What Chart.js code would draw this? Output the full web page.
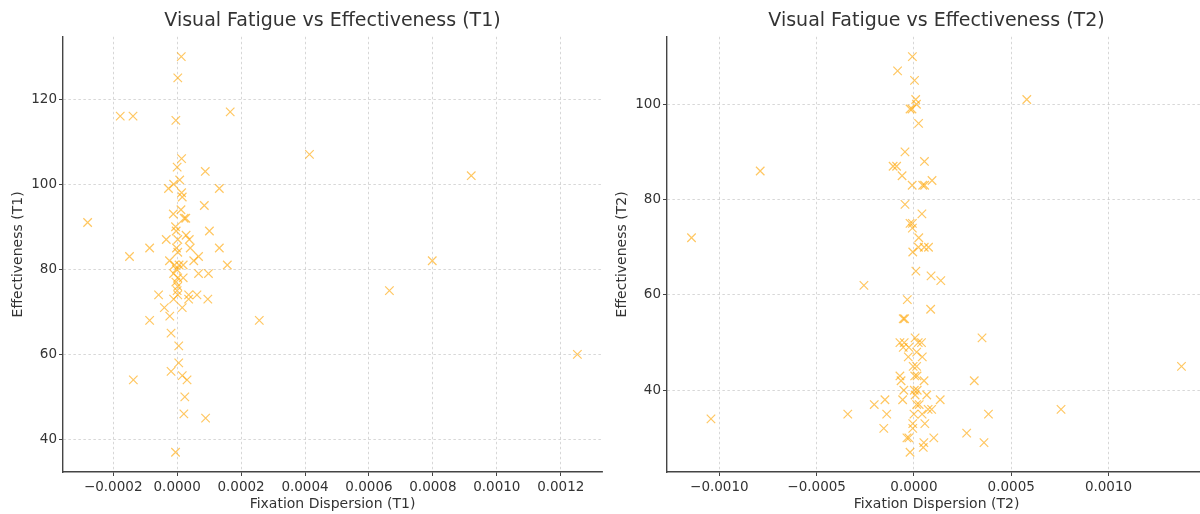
<!DOCTYPE html>
<html>
<head>
<meta charset="utf-8">
<title>Visual Fatigue vs Effectiveness</title>
<script src="https://cdn.jsdelivr.net/npm/chart.js@4.4.1/dist/chart.umd.min.js"></script>
<style>
  html, body { margin: 0; padding: 0; background: #ffffff; }
  body { width: 1200px; height: 514px; overflow: hidden; position: relative; }
  canvas { position: absolute; top: 0; }
  #chartT1 { left: 0; }
  #chartT2 { left: 604px; }
</style>
</head>
<body>
<canvas id="chartT1" width="612" height="514"></canvas>
<canvas id="chartT2" width="612" height="514"></canvas>
<script>
// Session T1: fixation dispersion and effectiveness per participant
const t1Dispersion = [
  0.000013, 0.000002, -0.000178, -0.000138, -0.000004, 0.000166, 0.000414, 0.000014,
  0.000000, 0.000088, 0.000920, 0.000008, -0.000011, -0.000027, 0.000132, 0.000014,
  0.000016, 0.000085, 0.000012, -0.000012, 0.000022, 0.000027, -0.000280, -0.000005,
  -0.000003, 0.000101, -0.000034, 0.000002, 0.000028, 0.000038, -0.000086, 0.000132,
  0.000041, -0.000002, 0.000002, -0.000149, 0.000067, -0.000024, 0.000052, 0.000798,
  0.000157, -0.000008, 0.000006, 0.000019, -0.000011, 0.000067, 0.000098, 0.000002,
  0.000019, -0.000004, 0.000000, 0.000664, -0.000058, 0.000036, 0.000062, 0.000002,
  -0.000011, 0.000036, 0.000096, -0.000040, 0.000016, -0.000086, 0.000257, -0.000023,
  -0.000019, 0.000005, 0.001252, 0.000005, -0.000019, 0.000016, 0.000031, -0.000137,
  0.000024, 0.000021, 0.000089, -0.000005, -0.000002, 0.000002
];
const t1Effectiveness = [
  130, 125, 116, 116, 115, 117, 107, 106,
  104, 103, 102, 101, 100, 99, 99, 98,
  97, 95, 94, 93, 92, 92, 91, 90,
  89, 89, 87, 87, 88, 87, 85, 85,
  85, 85, 84, 83, 83, 82, 82, 82,
  81, 81, 81, 81, 79, 79, 79, 78,
  78, 77, 75, 75, 74, 74, 74, 74,
  73, 73, 73, 71, 71, 68, 68, 69,
  65, 62, 60, 58, 56, 55, 54, 54,
  50, 46, 45, 37, 80, 76
];

// Session T2
const t2Dispersion = [
  -0.000008, -0.000084, 0.000003, 0.000580, 0.000009, 0.000013, -0.000020, -0.000010,
  0.000024, -0.000046, -0.000107, -0.000089, 0.000054, -0.000790, -0.000061, 0.000093,
  -0.000009, 0.000045, 0.000055, -0.000046, 0.000041, -0.000020, -0.000008, -0.000008,
  -0.001143, 0.000025, 0.000023, 0.000053, 0.000075, -0.000006, 0.000010, 0.000088,
  0.000138, -0.000257, -0.000034, 0.000086, -0.000055, -0.000048, 0.000350, 0.000006,
  -0.000072, -0.000050, 0.000022, 0.000039, -0.000055, -0.000026, 0.000014, 0.000043,
  -0.000029, 0.001375, -0.000004, 0.000014, -0.000072, 0.000004, -0.000066, 0.000052,
  0.000310, 0.000016, -0.000052, 0.000002, 0.000017, 0.000066, 0.000006, -0.000149,
  -0.000058, 0.000135, -0.000204, 0.000014, 0.000027, 0.000073, 0.000091, 0.000756,
  -0.000340, -0.000140, 0.000000, 0.000042, 0.000383, -0.001043, 0.000056, -0.000006,
  -0.000155, -0.000006, 0.000271, -0.000036, -0.000026, 0.000102, 0.000051, 0.000360,
  0.000048, -0.000020
];
const t2Effectiveness = [
  110, 107, 105, 101, 101, 100, 99, 99,
  96, 90, 87, 87, 88, 86, 85, 84,
  83, 83, 83, 79, 77, 75, 75, 74,
  72, 72, 70, 70, 70, 69, 65, 64,
  63, 62, 59, 57, 55, 55, 51, 51,
  50, 50, 50, 50, 49, 49, 48, 47,
  47, 45, 45, 45, 43, 43, 42, 42,
  42, 43, 40, 40, 40, 39, 39, 38,
  38, 38, 37, 37, 37, 36, 36, 36,
  35, 35, 35, 35, 35, 34, 33, 33,
  32, 32, 31, 30, 30, 30, 29, 29,
  28, 27
];

// Tick positions
const t1XTicks = [-0.0002, 0.0000, 0.0002, 0.0004, 0.0006, 0.0008, 0.0010, 0.0012];
const t1YTicks = [40, 60, 80, 100, 120];
const t2XTicks = [-0.0010, -0.0005, 0.0000, 0.0005, 0.0010];
const t2YTicks = [40, 60, 80, 100];

const FONT = "'DejaVu Sans', 'Liberation Sans', sans-serif";
const TEXT = '#333333';
const AXIS = '#444444';
const GRID = 'rgba(0,0,0,0.2)';
const MARK = 'rgba(255,165,0,0.62)';

function zip(xs, ys) {
  return xs.map((x, i) => ({ x: x, y: ys[i] }));
}

function fmtDispersion(v) {
  const r = Math.round(v * 1e4) / 1e4;
  if (r === 0) return '0.0000';
  return (r < 0 ? '\u2212' : '') + Math.abs(r).toFixed(4);
}

function gridOpts() {
  return {
    color: GRID,
    lineWidth: 0.8,
    drawTicks: true,
    tickLength: 4,
    tickColor: AXIS,
    tickWidth: 1,
    tickBorderDash: []
  };
}

// dash applies to the grid lines; the axis line itself stays solid
function borderOpts() {
  return { display: true, color: AXIS, width: 1.4, dash: [2.5, 2.5] };
}

function makeChart(id, session, xs, ys, xTicks, yTicks, xRange, yRange) {
  return new Chart(document.getElementById(id), {
    type: 'scatter',
    data: {
      datasets: [{
        data: zip(xs, ys),
        pointStyle: 'crossRot',
        radius: 6,
        hoverRadius: 6,
        borderColor: MARK,
        backgroundColor: MARK,
        borderWidth: 1.2
      }]
    },
    options: {
      responsive: false,
      animation: false,
      events: [],
      layout: { padding: { left: 0, right: 10, top: 0, bottom: 0 } },
      plugins: {
        legend: { display: false },
        tooltip: { enabled: false },
        title: {
          display: true,
          text: 'Visual Fatigue vs Effectiveness (' + session + ')',
          fullSize: false,
          color: TEXT,
          font: { family: FONT, size: 19, weight: 'normal', lineHeight: 1.2 },
          padding: { top: 10, bottom: 4 }
        }
      },
      scales: {
        x: {
          type: 'linear',
          position: 'bottom',
          min: xRange[0],
          max: xRange[1],
          afterBuildTicks: (scale) => { scale.ticks = xTicks.map(v => ({ value: v })); },
          afterFit: (scale) => { scale.height = 42; },
          ticks: {
            autoSkip: false,
            maxRotation: 0,
            minRotation: 0,
            padding: 3.5,
            color: TEXT,
            font: { family: FONT, size: 13.5 },
            callback: (v) => fmtDispersion(v)
          },
          grid: gridOpts(),
          border: borderOpts(),
          title: {
            display: true,
            text: 'Fixation Dispersion (' + session + ')',
            color: TEXT,
            font: { family: FONT, size: 14, lineHeight: 1.2 },
            padding: { top: 0, bottom: 1.5 }
          }
        },
        y: {
          type: 'linear',
          position: 'left',
          min: yRange[0],
          max: yRange[1],
          afterBuildTicks: (scale) => { scale.ticks = yTicks.map(v => ({ value: v })); },
          afterFit: (scale) => { scale.width = 63; },
          ticks: {
            autoSkip: false,
            padding: 2,
            color: TEXT,
            font: { family: FONT, size: 13.5 },
            callback: (v) => String(v)
          },
          grid: gridOpts(),
          border: borderOpts(),
          title: {
            display: true,
            text: 'Effectiveness (' + session + ')',
            color: TEXT,
            font: { family: FONT, size: 14, lineHeight: 1.2 },
            padding: { top: 9.5, bottom: 0 }
          }
        }
      }
    }
  });
}

makeChart('chartT1', 'T1', t1Dispersion, t1Effectiveness, t1XTicks, t1YTicks,
  [-0.000357, 0.001329], [32.35, 134.65]);
makeChart('chartT2', 'T2', t2Dispersion, t2Effectiveness, t2XTicks, t2YTicks,
  [-0.001269, 0.001501], [22.85, 114.15]);
</script>
</body>
</html>
